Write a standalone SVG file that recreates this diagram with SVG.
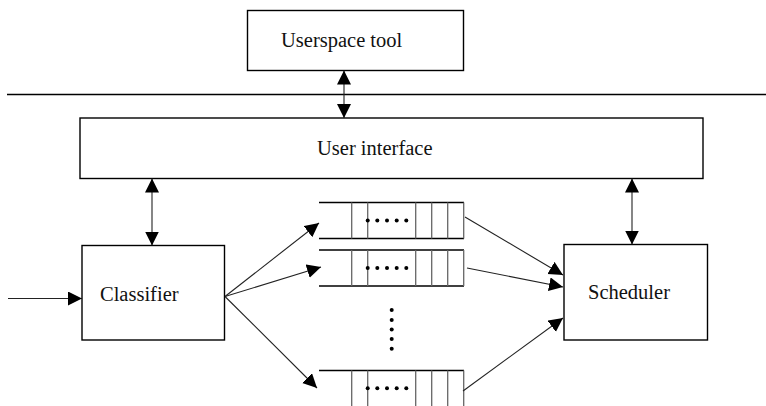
<svg xmlns="http://www.w3.org/2000/svg" width="766" height="406" viewBox="0 0 766 406">
<defs>
<style>
.box{fill:#fff;stroke:#000;stroke-width:1.4}
.lbl{font-family:"Liberation Serif","Times New Roman",serif;font-size:20.5px;fill:#111}
.conn{stroke:#222;stroke-width:1.1;fill:none}
.qh{stroke:#000;stroke-width:1.3}
.qv{stroke:#666;stroke-width:1.3}
.dot{fill:#000}
.arr{marker-end:url(#ah)}
.dbl{marker-end:url(#ah);marker-start:url(#ahs)}
</style>
<marker id="ah" markerUnits="userSpaceOnUse" markerWidth="16" markerHeight="16" refX="14" refY="7" orient="auto"><path d="M0,0 L14,7 L0,14 z" fill="#000"/></marker>
<marker id="ahs" markerUnits="userSpaceOnUse" markerWidth="16" markerHeight="16" refX="14" refY="7" orient="auto-start-reverse"><path d="M0,0 L14,7 L0,14 z" fill="#000"/></marker>
</defs>
<rect width="766" height="406" fill="#fff"/>
<line x1="7" y1="94.5" x2="766" y2="94.5" stroke="#000" stroke-width="1.3"/>
<g id="userspace">
<rect class="box" x="247.5" y="10.5" width="216" height="60"/>
<text class="lbl" x="281" y="47">Userspace tool</text>
</g>
<g id="userinterface">
<rect class="box" x="80" y="118" width="623" height="60.5"/>
<text class="lbl" x="317" y="155">User interface</text>
</g>
<g id="classifier">
<rect class="box" x="82" y="245.5" width="142.5" height="94.5"/>
<text class="lbl" x="100" y="301">Classifier</text>
</g>
<g id="scheduler">
<rect class="box" x="564" y="244.5" width="143.5" height="95.5"/>
<text class="lbl" x="588" y="299">Scheduler</text>
</g>
<g id="queue1">
<line class="qh" x1="319" y1="202.5" x2="464" y2="202.5"/>
<line class="qh" x1="319" y1="238.5" x2="464" y2="238.5"/>
<g class="qv"><line x1="351.7" y1="202.5" x2="351.7" y2="238.5"/><line x1="367.7" y1="202.5" x2="367.7" y2="238.5"/><line x1="415.7" y1="202.5" x2="415.7" y2="238.5"/><line x1="431.7" y1="202.5" x2="431.7" y2="238.5"/><line x1="447.7" y1="202.5" x2="447.7" y2="238.5"/><line x1="463.7" y1="202.5" x2="463.7" y2="238.5"/></g>
<g class="dot"><circle cx="367.7" cy="220.5" r="2"/><circle cx="377.3" cy="220.5" r="2"/><circle cx="387" cy="220.5" r="2"/><circle cx="396.7" cy="220.5" r="2"/><circle cx="406.3" cy="220.5" r="2"/></g>
</g>
<g id="queue2">
<line class="qh" x1="319" y1="250" x2="464" y2="250"/>
<line class="qh" x1="319" y1="286" x2="464" y2="286"/>
<g class="qv"><line x1="351.7" y1="250" x2="351.7" y2="286"/><line x1="367.7" y1="250" x2="367.7" y2="286"/><line x1="415.7" y1="250" x2="415.7" y2="286"/><line x1="431.7" y1="250" x2="431.7" y2="286"/><line x1="447.7" y1="250" x2="447.7" y2="286"/><line x1="463.7" y1="250" x2="463.7" y2="286"/></g>
<g class="dot"><circle cx="367.7" cy="268" r="2"/><circle cx="377.3" cy="268" r="2"/><circle cx="387" cy="268" r="2"/><circle cx="396.7" cy="268" r="2"/><circle cx="406.3" cy="268" r="2"/></g>
</g>
<g id="vdots" class="dot"><circle cx="391.7" cy="310" r="2"/><circle cx="391.7" cy="320" r="2"/><circle cx="391.7" cy="329.5" r="2"/><circle cx="391.7" cy="339" r="2"/><circle cx="391.7" cy="348.7" r="2"/></g>
<g id="queue3">
<line class="qh" x1="319" y1="370.5" x2="464" y2="370.5"/>
<g class="qv"><line x1="351.7" y1="370.5" x2="351.7" y2="410"/><line x1="367.7" y1="370.5" x2="367.7" y2="410"/><line x1="415.7" y1="370.5" x2="415.7" y2="410"/><line x1="431.7" y1="370.5" x2="431.7" y2="410"/><line x1="447.7" y1="370.5" x2="447.7" y2="410"/><line x1="463.7" y1="370.5" x2="463.7" y2="410"/></g>
<g class="dot"><circle cx="367.7" cy="388.3" r="2"/><circle cx="377.3" cy="388.3" r="2"/><circle cx="387" cy="388.3" r="2"/><circle cx="396.7" cy="388.3" r="2"/><circle cx="406.3" cy="388.3" r="2"/></g>
</g>
<g id="connectors" class="conn">
<line class="dbl" x1="344" y1="70.5" x2="344" y2="118"/>
<line class="dbl" x1="152" y1="178.5" x2="152" y2="245.5"/>
<line class="dbl" x1="632" y1="178.5" x2="632" y2="244.5"/>
<line class="arr" x1="8" y1="298.5" x2="82" y2="298.5"/>
<line class="arr" x1="225" y1="296.5" x2="319" y2="223"/>
<line class="arr" x1="225" y1="296.5" x2="321" y2="267"/>
<line class="arr" x1="225" y1="296.5" x2="317" y2="388"/>
<line class="arr" x1="465" y1="217" x2="563" y2="275"/>
<line class="arr" x1="467" y1="268" x2="563" y2="287"/>
<line class="arr" x1="463" y1="391" x2="563" y2="318"/>
</g>
</svg>
